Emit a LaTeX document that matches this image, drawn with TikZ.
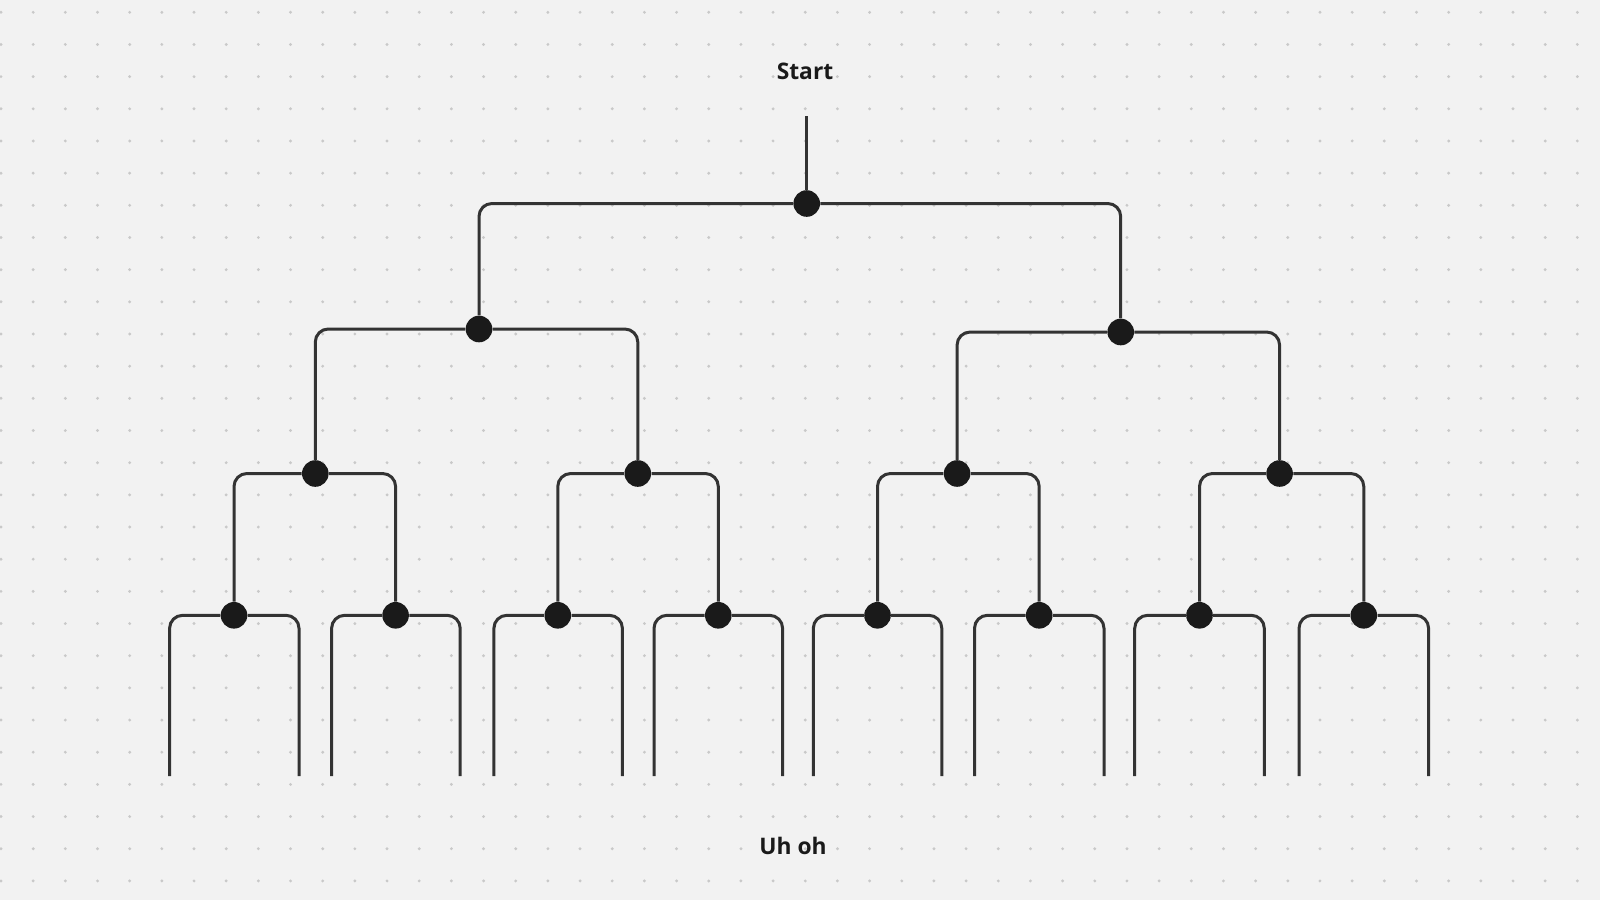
\documentclass[tikz,border=0pt]{standalone}
\usepackage{fontspec}
\setmainfont{Open Sans}
\definecolor{bg}{HTML}{F2F2F2}
\definecolor{griddot}{HTML}{C9C9C9}
\definecolor{wire}{HTML}{333333}
\definecolor{ink}{HTML}{1A1A1A}
\begin{document}
\begin{tikzpicture}[x=0.5pt,y=-0.5pt,
  wirestyle/.style={draw=wire,line width=1.5pt,rounded corners=6.5pt},
  joint/.style={circle,fill=ink,minimum size=13.3pt,inner sep=0pt},
  label/.style={font=\bfseries\fontsize{11.4pt}{13pt}\selectfont,text=ink}]
\useasboundingbox (0,0) rectangle (1600,900);
\fill[bg] (0,0) rectangle (1600,900);
\foreach \i in {0,...,49}{
  \foreach \j in {0,...,27}{
    \fill[griddot] ({1+32.17*\i},{12.3+32.17*\j}) circle (0.8pt);
  }
}
% texts
\node[label] (start) at (805,71) {Start};
\node[label] (uhoh) at (793,846) {Uh oh};
% joints
\node[joint] (r) at (806.7,203.5) {};
\node[joint] (a) at (479,329) {};
\node[joint] (b) at (1120.7,332) {};
\node[joint] (aa) at (315.3,473.5) {};
\node[joint] (ab) at (637.8,473.5) {};
\node[joint] (ba) at (957.1,473.5) {};
\node[joint] (bb) at (1279.6,473.5) {};
\node[joint] (l1) at (234,615.3) {};
\node[joint] (l2) at (395.6,615.3) {};
\node[joint] (l3) at (557.8,615.3) {};
\node[joint] (l4) at (718.3,615.3) {};
\node[joint] (l5) at (877.5,615.3) {};
\node[joint] (l6) at (1039.2,615.3) {};
\node[joint] (l7) at (1199.5,615.3) {};
\node[joint] (l8) at (1363.8,615.3) {};
\coordinate (top) at (806.7,116);
% bracket ends
\foreach \n/\xl/\xr in {1/169.6/299,2/331.6/460.2,3/493.9/622.4,4/654/782.6,5/813.3/941.8,6/974.5/1104,7/1134.7/1264.3,8/1299/1428.6}{
  \coordinate (e\n L) at (\xl,776);
  \coordinate (e\n R) at (\xr,776);
}
\begin{scope}[on background layer/.style={}]
\draw[wirestyle] (top) -- (r);
\draw[wirestyle] (r) -| (a);
\draw[wirestyle] (r) -| (b);
\draw[wirestyle] (a) -| (aa);
\draw[wirestyle] (a) -| (ab);
\draw[wirestyle] (b) -| (ba);
\draw[wirestyle] (b) -| (bb);
\draw[wirestyle] (aa) -| (l1);
\draw[wirestyle] (aa) -| (l2);
\draw[wirestyle] (ab) -| (l3);
\draw[wirestyle] (ab) -| (l4);
\draw[wirestyle] (ba) -| (l5);
\draw[wirestyle] (ba) -| (l6);
\draw[wirestyle] (bb) -| (l7);
\draw[wirestyle] (bb) -| (l8);
\foreach \n in {1,...,8}{
  \draw[wirestyle] (l\n) -| (e\n L);
  \draw[wirestyle] (l\n) -| (e\n R);
}
\end{scope}
\end{tikzpicture}
\end{document}
